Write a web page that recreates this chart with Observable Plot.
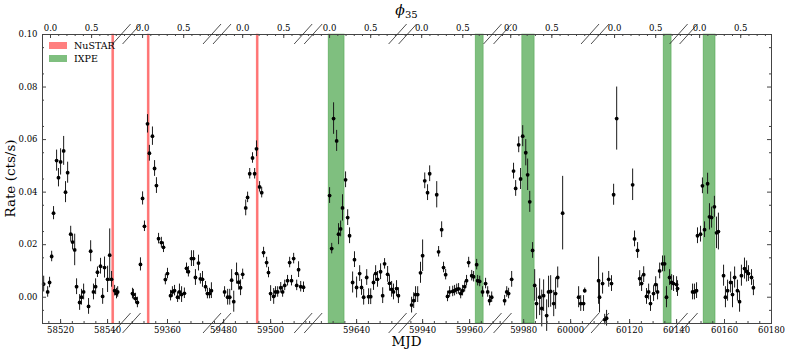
<!DOCTYPE html>
<html><head><meta charset="utf-8">
<script src="https://cdn.jsdelivr.net/npm/d3@7"></script>
<script src="https://cdn.jsdelivr.net/npm/@observablehq/plot@0.6"></script>
<style>body{margin:0;background:#fff} svg{font-family:"DejaVu Serif",serif}</style>
</head><body><div id="chart"></div>
<script>
// ---- segments of the broken MJD axis ----
const segStart  = [58512.3, 59342.8, 59477.4, 59619.6, 59931.7, 59969.1, 60105.5, 60142.8];
const segEnd    = [58548.3, 59381.3, 59516.2, 59659.8, 59972.1, 60010.6, 60143.2, 60180.0];
const segPhase0 = [58515.7, 59349.4, 59488.1, 59628.5, 59939.6, 59974.5, 60113.6, 60149.4];
const superPeriod = 35;
const mjdTickLabels = [[58520,58540],[59360],[59480,59500],[59640],[59940,59960],[59980,60000],[60120,60140],[60160,60180]];
const phaseTickLabels = [0.0, 0.5];
const yTickValues = [0, 0.02, 0.04, 0.06, 0.08, 0.10];
const yDomain = [-0.01, 0.10];

// ---- observation windows ----
const nustarStart = [58542.0, 59351.6, 59494.1];
const nustarEnd   = [58542.8, 59352.4, 59494.9];
const nustarSeg   = [0, 1, 2];
const ixpeStart = [59628.1, 59962.6, 59979.4, 60134.5, 60151.1];
const ixpeEnd   = [59634.9, 59966.0, 59984.7, 60137.9, 60156.2];
const ixpeSeg   = [3, 4, 5, 6, 7];

// ---- light curve ----
const mjd1 = [58512.8,58514.5,58515.3,58516.2,58517.0,58518.3,58519.1,58520.0,58521.3,58522.1,58523.0,58524.3,58525.1,58526.0,58526.8,58528.1,58528.9,58529.8,58531.9,58532.8,58534.0,58534.9,58535.7,58537.0,58537.9,58538.7,58540.0,58540.9,58541.7,58543.0,58543.8,58544.3];
const rate1 = [0.005,0.002,0.0056,0.0155,0.032,0.052,0.0455,0.0515,0.0557,0.040,0.0474,0.024,0.021,0.018,0.004,-0.002,0.000,0.002,-0.0035,0.0175,0.002,0.004,0.0095,0.0118,0.0003,0.0113,0.0068,0.016,0.0068,0.0025,0.0014,0.002];
const err1 = [0.003,0.002,0.002,0.002,0.0025,0.004,0.0035,0.005,0.0055,0.004,0.004,0.003,0.003,0.006,0.003,0.003,0.003,0.003,0.003,0.004,0.003,0.003,0.002,0.003,0.003,0.004,0.005,0.01,0.003,0.002,0.002,0.002];

const mjd2 = [59345.1,59345.5,59346.4,59347.2,59348.5,59349.4,59350.2,59351.5,59352.3,59353.6,59354.5,59355.3,59356.2,59357.4,59358.3,59359.1,59360.0,59361.3,59362.1,59363.0,59364.3,59365.1,59366.0,59367.2,59368.1,59368.9,59370.2,59371.1,59371.9,59373.2,59374.0,59374.9,59376.2,59377.0,59377.9,59378.7];
const rate2 = [0.0014,0.001,-0.0005,-0.002,0.0125,0.0376,0.027,0.066,0.0548,0.0613,0.049,0.0425,0.0223,0.0208,0.019,0.0067,0.009,0.0006,0.002,0.0025,0.000,0.002,0.001,0.0015,0.011,0.0097,0.0147,0.0147,0.0075,0.013,0.007,0.0068,0.004,0.0014,0.0014,0.0025];
const err2 = [0.002,0.002,0.002,0.002,0.0025,0.0025,0.002,0.0035,0.003,0.0035,0.003,0.003,0.002,0.002,0.002,0.002,0.002,0.002,0.002,0.002,0.002,0.003,0.003,0.002,0.002,0.002,0.003,0.003,0.003,0.003,0.002,0.003,0.002,0.002,0.002,0.003];

const mjd3 = [59480.4,59481.7,59482.6,59483.4,59484.3,59485.5,59486.4,59487.2,59488.1,59489.4,59490.2,59491.1,59492.3,59493.2,59494.0,59495.3,59496.2,59497.0,59498.3,59499.1,59500.0,59501.3,59502.1,59503.0,59504.3,59505.1,59506.0,59507.2,59508.1,59508.9,59509.8,59511.1,59511.9,59512.8,59514.0];
const rate3 = [0.002,0,0,0.0065,-0.0017,0.009,0.0057,0.0036,0.0087,0.034,0.038,0.047,0.053,0.047,0.0565,0.042,0.0398,0.017,0.0132,0.0094,0.0014,0.0003,0.002,0.002,0.0036,0.002,0.0045,0.0063,0.0132,0.0063,0.0147,0.0045,0.0105,0.004,0.0038];
const err3 = [0.002,0.003,0.003,0.004,0.004,0.004,0.003,0.003,0.002,0.003,0.002,0.002,0.002,0.002,0.003,0.002,0.002,0.002,0.002,0.002,0.003,0.003,0.002,0.002,0.002,0.002,0.002,0.002,0.002,0.002,0.002,0.002,0.003,0.002,0.002];

const mjd4 = [59628.5,59629.4,59630.2,59631.5,59632.3,59633.2,59634.0,59635.3,59636.2,59637.0,59638.3,59639.1,59640.0,59641.3,59642.1,59643.0,59644.3,59645.1,59646.0,59647.2,59648.1,59648.9,59650.2,59651.1,59651.9,59653.2,59654.0,59654.9,59655.7,59657.0,59657.8];
const rate4 = [0.0387,0.0185,0.068,0.0595,0.024,0.026,0.034,0.0447,0.0303,0.0234,0.0056,0.0143,0.0037,0.009,0.0037,0,0.0075,0.0002,0.0002,0.0056,0.009,0.0068,0.0097,0.0006,0.0127,0.0087,0.0053,0.003,0.002,0.0033,0.0006];
const err4 = [0.003,0.002,0.006,0.004,0.004,0.003,0.005,0.003,0.003,0.003,0.004,0.003,0.004,0.003,0.003,0.003,0.003,0.003,0.003,0.003,0.003,0.003,0.003,0.003,0.002,0.003,0.003,0.003,0.003,0.003,0.003];

const mjd5 = [59935.3,59936.2,59937.0,59937.9,59939.1,59940.0,59940.9,59942.1,59943.0,59946.0,59946.8,59948.1,59948.9,59949.8,59950.6,59951.5,59952.8,59953.6,59954.5,59955.3,59956.2,59957.0,59957.9,59958.7,59959.6,59960.9,59961.7,59963.0,59963.4,59964.3,59965.5,59966.8,59967.7,59968.5,59969.4];
const rate5 = [-0.003,-0.0013,0.001,0.001,0.0093,0.0158,0.0443,0.0398,0.047,0.039,0.0173,0.0257,0.0113,0.0086,0.0003,0.002,0.0022,0.0025,0.003,0.0032,0.0014,0.0025,0.004,0.0063,0.0132,0.0082,0.0078,0.0124,0.0063,0.006,0.002,0.0052,0.002,-0.0013,0];
const err5 = [0.003,0.003,0.003,0.003,0.004,0.006,0.003,0.003,0.003,0.005,0.002,0.003,0.002,0.002,0.002,0.002,0.002,0.002,0.002,0.002,0.002,0.002,0.002,0.002,0.002,0.002,0.002,0.002,0.002,0.002,0.002,0.002,0.002,0.002,0.002];

const mjd6 = [59971.9,59972.8,59973.6,59974.9,59975.7,59976.6,59977.9,59978.7,59979.6,59980.9,59981.7,59982.6,59983.8,59984.7,59985.5,59986.8,59987.7,59988.5,59989.8,59990.6,59991.5,59992.8,59993.6,59994.5,59996.6,60003.4,60004.3,60005.5,60006.0];
const rate6 = [-0.0013,0.002,0.0014,0.0068,0.048,0.0414,0.058,0.045,0.0613,0.055,0.0466,0.0363,0.0178,0.0045,-0.0024,0,-0.0043,0.0006,-0.007,0.002,0.0022,-0.0024,0.0014,0.0075,0.032,0,-0.0024,-0.0024,0.0025];
const err6 = [0.002,0.002,0.002,0.003,0.003,0.003,0.003,0.004,0.004,0.005,0.006,0.004,0.003,0.006,0.006,0.007,0.007,0.006,0.006,0.006,0.006,0.005,0.006,0.004,0.014,0.004,0.003,0.003,0.001];

const mjd7 = [60106.8,60107.2,60108.5,60109.4,60110.2,60111.1,60112.3,60113.2,60114.5,60121.3,60122.1,60123.4,60124.3,60125.1,60126.0,60127.2,60128.1,60128.9,60130.2,60131.1,60131.9,60132.8,60134.0,60134.9,60135.7,60137.0,60137.9,60138.7,60140.0,60140.4];
const rate7 = [0.0063,0,0.0052,-0.0085,-0.008,0.0068,0.0052,0.039,0.068,0.0428,0.0222,0.0178,0.0071,0.0052,0.0086,0.0003,0.002,-0.0024,0.0014,0.0048,0.002,0.01,0.0127,0.0127,0,0.0075,0.0056,0.0052,0.0048,0.0033];
const err7 = [0.009,0.006,0.004,0.002,0.003,0.003,0.003,0.004,0.012,0.006,0.003,0.003,0.003,0.003,0.003,0.003,0.003,0.003,0.003,0.003,0.003,0.003,0.003,0.003,0.004,0.003,0.003,0.003,0.003,0.003];

const mjd8 = [60146.4,60147.2,60148.1,60148.5,60149.8,60150.6,60151.5,60152.8,60153.6,60154.5,60155.7,60156.6,60157.4,60159.6,60160.4,60161.3,60162.6,60163.4,60164.3,60165.5,60166.4,60167.2,60168.5,60169.4,60170.2,60171.5,60172.3];
const rate8 = [0.002,0.002,0.0025,0.0234,0.024,0.0424,0.0257,0.0432,0.0306,0.0303,0.0344,0.0245,0.025,0.0082,0,0.0025,0.0056,0.001,0.0075,0.0025,-0.0017,0.0082,0.0109,0.0098,0.009,0.0075,0.0036];
const err8 = [0.003,0.003,0.003,0.003,0.003,0.003,0.003,0.004,0.005,0.004,0.004,0.006,0.007,0.004,0.004,0.004,0.004,0.005,0.004,0.004,0.004,0.004,0.004,0.004,0.003,0.003,0.003];

// ---- build tables ----
const segLen = segStart.map((s, i) => segEnd[i] - s);
const segOff = segLen.map((_, i) => d3.sum(segLen.slice(0, i)));
const totalLen = d3.sum(segLen);
const toU = (seg, mjd) => segOff[seg] + (mjd - segStart[seg]);

const series = [[mjd1,rate1,err1],[mjd2,rate2,err2],[mjd3,rate3,err3],[mjd4,rate4,err4],
                [mjd5,rate5,err5],[mjd6,rate6,err6],[mjd7,rate7,err7],[mjd8,rate8,err8]];
const points = series.flatMap(([m, r, e], s) => m.map((t, i) => ({u: toU(s, t), rate: r[i], err: e[i]})));

const bands = [
  ...nustarStart.map((t, i) => ({x1: toU(nustarSeg[i], t), x2: toU(nustarSeg[i], nustarEnd[i]), inst: "NuSTAR"})),
  ...ixpeStart.map((t, i) => ({x1: toU(ixpeSeg[i], t), x2: toU(ixpeSeg[i], ixpeEnd[i]), inst: "IXPE"}))
];
const bandColor = {NuSTAR: "#ff0000", IXPE: "#008000"};

// bottom ticks
const mjdMajor = mjdTickLabels.flatMap((arr, s) => arr.map(v => ({u: toU(s, v), label: String(v)})));
const mjdMinor = segStart.flatMap((s0, s) => d3.range(Math.ceil(s0 / 5) * 5, segEnd[s] + 1e-6, 5).map(v => toU(s, v)));
// top phase ticks
const phaseMinor = segStart.flatMap((s0, s) => d3.range(-3, 10).map(k => k / 10)
   .map(p => segPhase0[s] + p * superPeriod).filter(t => t > s0 && t < segEnd[s]).map(t => toU(s, t)));
const phaseMajor = segStart.flatMap((s0, s) => phaseTickLabels.map(p => ({t: segPhase0[s] + p * superPeriod, p}))
   .filter(d => d.t >= s0 && d.t <= segEnd[s]).map(d => ({u: toU(s, d.t), label: d.p.toFixed(1)})));
const yMinor = d3.range(-0.005, 0.1001, 0.01);

const W = 789, H = 353, mL = 42, mR = 18, mT = 34, mB = 30;
const fW = W - mL - mR, fH = H - mT - mB;
const axisColor = "#444";

const plot = Plot.plot({
  width: W, height: H, marginLeft: mL, marginRight: mR, marginTop: mT, marginBottom: mB,
  x: {domain: [0, totalLen], axis: null},
  y: {domain: yDomain, axis: null},
  style: {fontFamily: "DejaVu Serif", fontSize: "8.5px", background: "white", color: "black"},
  marks: [
    Plot.rect(bands, {x1: "x1", x2: "x2", y1: () => yDomain[0], y2: () => yDomain[1],
      fill: d => bandColor[d.inst], fillOpacity: 0.5, stroke: d => bandColor[d.inst], strokeOpacity: 0.35, strokeWidth: 0.8}),
    Plot.ruleX(points, {x: "u", y1: d => d.rate - d.err, y2: d => d.rate + d.err, stroke: "#1a1a1a", strokeWidth: 1}),
    Plot.dot(points, {x: "u", y: "rate", r: 1.9, fill: "black", stroke: "none"}),
    // y ticks
    Plot.tickY(yTickValues, {y: d => d, insetRight: fW - 4, stroke: axisColor}),
    Plot.tickY(yTickValues, {y: d => d, insetLeft: fW - 4, stroke: axisColor}),
    Plot.tickY(yMinor, {y: d => d, insetRight: fW - 2, stroke: axisColor}),
    Plot.tickY(yMinor, {y: d => d, insetLeft: fW - 2, stroke: axisColor}),
    Plot.text(yTickValues, {y: d => d, text: d => d.toFixed(2), frameAnchor: "left", textAnchor: "end", dx: -5}),
    // bottom MJD ticks
    Plot.tickX(mjdMajor, {x: "u", insetTop: fH - 4, stroke: axisColor}),
    Plot.tickX(mjdMinor, {x: d => d, insetTop: fH - 2, stroke: axisColor}),
    Plot.text(mjdMajor, {x: "u", text: "label", frameAnchor: "bottom", lineAnchor: "top", dy: 3}),
    // top phase ticks
    Plot.tickX(phaseMajor, {x: "u", insetBottom: fH - 4, stroke: axisColor}),
    Plot.tickX(phaseMinor, {x: d => d, insetBottom: fH - 2, stroke: axisColor}),
    Plot.text(phaseMajor, {x: "u", text: "label", frameAnchor: "top", lineAnchor: "bottom", dy: -4}),
    Plot.frame({stroke: axisColor})
  ]
});

const svg = d3.select(plot);
const xs = plot.scale("x");
// break marks
const breaks = segOff.slice(1);
for (const b of breaks) {
  const xb = xs.apply(b);
  for (const yA of [mT, H - mB]) {
    for (const d of [-5, 5]) {
      svg.append("line").attr("x1", xb + d - 9).attr("y1", yA + 10).attr("x2", xb + d + 9).attr("y2", yA - 10)
        .attr("stroke", "#222").attr("stroke-width", 0.8);
    }
  }
}
// legend
const leg = svg.append("g").attr("font-family", "DejaVu Serif").attr("font-size", "9.5px").attr("text-anchor", "start");
[["NuSTAR", 0], ["IXPE", 1]].forEach(([name, i]) => {
  leg.append("rect").attr("x", mL + 7).attr("y", mT + 8 + i * 13).attr("width", 18).attr("height", 7)
    .attr("fill", bandColor[name]).attr("fill-opacity", 0.5);
  leg.append("text").attr("x", mL + 32).attr("y", mT + 15 + i * 13).attr("text-anchor", "start").text(name);
});
// axis titles
svg.append("text").attr("x", mL + fW / 2).attr("y", H - 7).attr("text-anchor", "middle")
  .attr("font-family", "DejaVu Serif").attr("font-size", "13.5px").text("MJD");
svg.append("text").attr("transform", `translate(15,${mT + fH / 2}) rotate(-90)`).attr("text-anchor", "middle")
  .attr("font-family", "DejaVu Serif").attr("font-size", "13.5px").text("Rate (cts/s)");
const phi = svg.append("text").attr("x", mL + fW / 2).attr("y", 15).attr("text-anchor", "middle")
  .attr("font-family", "DejaVu Serif").attr("font-size", "14px");
phi.append("tspan").attr("font-style", "italic").text("ϕ");
phi.append("tspan").attr("font-size", "10px").attr("dy", 3).text("35");

document.getElementById("chart").appendChild(plot);
</script>
</body></html>
